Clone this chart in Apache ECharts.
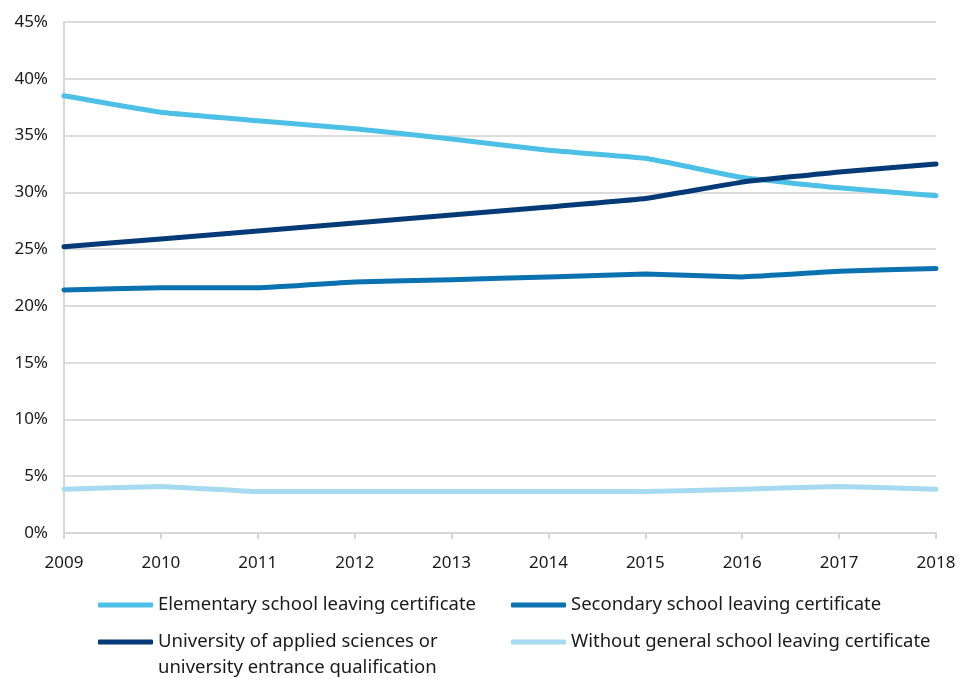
<!DOCTYPE html>
<html>
<head>
<meta charset="utf-8">
<style>
  html, body { margin: 0; padding: 0; background: #fff; }
  #chart { width: 962px; height: 679px; }
</style>
<script src="https://cdn.jsdelivr.net/npm/echarts@6/dist/echarts.min.js"></script>
</head>
<body>
<div id="chart"></div>
<script>
// Years on the horizontal axis
const years = ['2009', '2010', '2011', '2012', '2013', '2014', '2015', '2016', '2017', '2018'];

// Share of each school-leaving qualification, in percent
const elementary = [38.5, 37.05, 36.3, 35.6, 34.7, 33.7, 33.0, 31.3, 30.4, 29.7];
const secondary = [21.4, 21.6, 21.6, 22.1, 22.3, 22.55, 22.8, 22.55, 23.05, 23.3];
const university = [25.2, 25.9, 26.6, 27.3, 28.0, 28.7, 29.45, 30.9, 31.8, 32.5];
const without = [3.85, 4.1, 3.65, 3.65, 3.65, 3.65, 3.65, 3.85, 4.1, 3.85];

// Series names as shown in the legend
const names = {
  elementary: 'Elementary school leaving certificate',
  secondary: 'Secondary school leaving certificate',
  university: 'University of applied sciences or\nuniversity entrance qualification',
  without: 'Without general school leaving certificate'
};

const colors = {
  elementary: '#4cc0e6',
  secondary: '#0a72b0',
  university: '#033a77',
  without: '#a6daf1'
};

const font = '"Noto Sans", sans-serif';
const textColor = '#1a1a1a';

function line(name, data, color, z) {
  return {
    name: name,
    type: 'line',
    data: data,
    z: z,
    smooth: 0.1,
    symbol: 'none',
    lineStyle: { color: color, width: 5, cap: 'round', join: 'round' },
    itemStyle: { color: color }
  };
}

// One legend block per entry so the two-column layout can be placed freely.
// For a two-line name a blank leading line keeps the swatch level with the first line.
function legendEntry(name, left, top, twoLine) {
  return {
    orient: 'vertical',
    left: left,
    top: top,
    padding: 0,
    itemWidth: 55,
    itemHeight: 5,
    icon: 'roundRect',
    selectedMode: false,
    formatter: twoLine ? (n => ' \n' + n) : (n => n),
    textStyle: {
      fontFamily: font,
      fontSize: 18.5,
      color: textColor,
      lineHeight: 26
    },
    data: [name]
  };
}

const chart = echarts.init(document.getElementById('chart'), null, { renderer: 'canvas' });
chart.setOption({
  animation: false,
  backgroundColor: '#ffffff',
  grid: { left: 64, right: 26, top: 22, bottom: 146, containLabel: false },
  xAxis: {
    type: 'category',
    data: years,
    boundaryGap: false,
    axisLine: { show: true, lineStyle: { color: '#d6d6d6', width: 2 } },
    axisTick: { show: true, alignWithLabel: true, length: 6, lineStyle: { color: '#d6d6d6', width: 2 } },
    axisLabel: { fontFamily: font, fontSize: 17, color: textColor, margin: 22 },
    splitLine: { show: false }
  },
  yAxis: {
    type: 'value',
    min: 0,
    max: 45,
    interval: 5,
    axisLine: { show: true, lineStyle: { color: '#d6d6d6', width: 2 } },
    axisTick: { show: false },
    axisLabel: { fontFamily: font, fontSize: 17, color: textColor, margin: 16, formatter: '{value}%' },
    splitLine: { show: true, lineStyle: { color: '#dcdcdc', width: 2 } }
  },
  legend: [
    legendEntry(names.elementary, 98, 592, false),
    legendEntry(names.university, 98, 603, true),
    legendEntry(names.secondary, 511, 592, false),
    legendEntry(names.without, 511, 629, false)
  ],
  series: [
    line(names.elementary, elementary, colors.elementary, 3),
    line(names.secondary, secondary, colors.secondary, 2),
    line(names.university, university, colors.university, 4),
    line(names.without, without, colors.without, 1)
  ]
});
</script>
</body>
</html>
